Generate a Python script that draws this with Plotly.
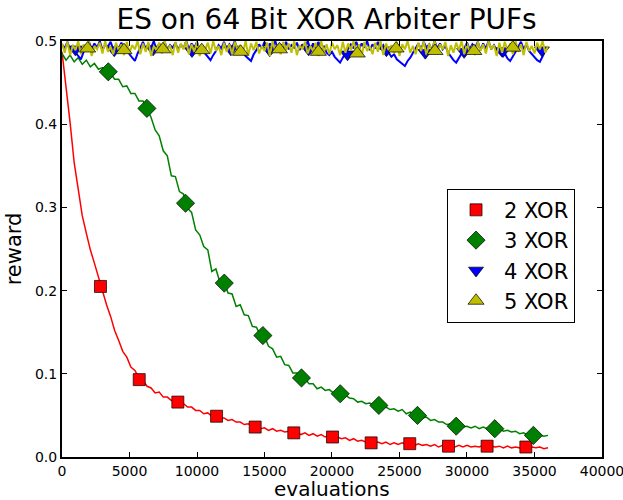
import numpy as np
import plotly.graph_objects as go

# evaluation grids for the curves
evals = np.arange(0, 36001, 300)
evals_fine = np.arange(0, 36001, 200)

xor2 = [0.487, 0.446, 0.402, 0.354, 0.319, 0.290, 0.269, 0.249, 0.233, 0.216,
        0.202, 0.183, 0.169, 0.152, 0.140, 0.127, 0.120, 0.108, 0.104, 0.095,
        0.092, 0.085, 0.083, 0.077, 0.078, 0.072, 0.072, 0.068, 0.068, 0.064,
        0.064, 0.060, 0.060, 0.056, 0.056, 0.052, 0.053, 0.049, 0.050, 0.047,
        0.047, 0.044, 0.045, 0.042, 0.042, 0.039, 0.040, 0.036, 0.037, 0.034,
        0.035, 0.032, 0.034, 0.031, 0.032, 0.030, 0.031, 0.028, 0.030, 0.027,
        0.029, 0.026, 0.028, 0.025, 0.027, 0.024, 0.026, 0.023, 0.024, 0.022,
        0.023, 0.020, 0.022, 0.019, 0.020, 0.018, 0.019, 0.016, 0.018, 0.016,
        0.018, 0.015, 0.017, 0.015, 0.017, 0.015, 0.017, 0.014, 0.016, 0.014,
        0.015, 0.013, 0.015, 0.012, 0.014, 0.012, 0.014, 0.012, 0.014, 0.012,
        0.014, 0.012, 0.013, 0.012, 0.014, 0.011, 0.013, 0.012, 0.013, 0.011,
        0.013, 0.011, 0.012, 0.011, 0.013, 0.010, 0.012, 0.011, 0.012, 0.010,
        0.011]

xor3 = [0.485, 0.477, 0.483, 0.475, 0.480, 0.472, 0.477, 0.469, 0.473, 0.466,
        0.468, 0.462, 0.461, 0.454, 0.454, 0.445, 0.446, 0.437, 0.437, 0.428,
        0.428, 0.418, 0.408, 0.393, 0.386, 0.368, 0.362, 0.338, 0.337, 0.319,
        0.316, 0.299, 0.294, 0.273, 0.267, 0.253, 0.249, 0.223, 0.226, 0.210,
        0.211, 0.197, 0.196, 0.181, 0.183, 0.171, 0.170, 0.157, 0.156, 0.146,
        0.145, 0.133, 0.130, 0.120, 0.121, 0.111, 0.110, 0.101, 0.101, 0.094,
        0.094, 0.088, 0.088, 0.082, 0.084, 0.080, 0.081, 0.077, 0.078, 0.074,
        0.074, 0.071, 0.070, 0.066, 0.067, 0.064, 0.065, 0.062, 0.063, 0.060,
        0.060, 0.057, 0.058, 0.055, 0.057, 0.052, 0.054, 0.050, 0.051, 0.047,
        0.048, 0.044, 0.045, 0.042, 0.042, 0.039, 0.040, 0.036, 0.038, 0.036,
        0.037, 0.035, 0.037, 0.034, 0.036, 0.034, 0.035, 0.033, 0.034, 0.031,
        0.032, 0.030, 0.031, 0.028, 0.029, 0.026, 0.028, 0.025, 0.026, 0.025,
        0.026]

xor4 = [0.496, 0.491, 0.499, 0.489, 0.495, 0.486, 0.482, 0.478, 0.487, 0.494,
        0.499, 0.490, 0.497, 0.492, 0.500, 0.489, 0.496, 0.493, 0.499, 0.490,
        0.495, 0.491, 0.498, 0.489, 0.494, 0.484, 0.480, 0.476, 0.485, 0.493,
        0.499, 0.490, 0.496, 0.492, 0.500, 0.489, 0.497, 0.491, 0.499, 0.490,
        0.495, 0.492, 0.498, 0.489, 0.496, 0.491, 0.500, 0.490, 0.497, 0.492,
        0.499, 0.488, 0.494, 0.485, 0.481, 0.477, 0.483, 0.488, 0.495, 0.491,
        0.499, 0.490, 0.496, 0.492, 0.500, 0.489, 0.494, 0.486, 0.482, 0.479,
        0.476, 0.484, 0.489, 0.496, 0.491, 0.499, 0.490, 0.497, 0.492, 0.500,
        0.489, 0.496, 0.491, 0.499, 0.490, 0.495, 0.492, 0.498, 0.489, 0.496,
        0.491, 0.500, 0.490, 0.497, 0.492, 0.499, 0.488, 0.494, 0.486, 0.483,
        0.487, 0.481, 0.478, 0.474, 0.480, 0.485, 0.490, 0.496, 0.491, 0.499,
        0.490, 0.497, 0.492, 0.500, 0.489, 0.496, 0.491, 0.499, 0.490, 0.495,
        0.489, 0.486, 0.481, 0.484, 0.478, 0.475, 0.472, 0.470, 0.476, 0.480,
        0.486, 0.491, 0.497, 0.490, 0.499, 0.492, 0.496, 0.489, 0.500, 0.491,
        0.497, 0.490, 0.494, 0.486, 0.481, 0.477, 0.474, 0.479, 0.485, 0.491,
        0.498, 0.490, 0.496, 0.492, 0.499, 0.489, 0.497, 0.491, 0.500, 0.490,
        0.495, 0.489, 0.486, 0.482, 0.485, 0.479, 0.476, 0.481, 0.487, 0.493,
        0.499, 0.490, 0.496, 0.488, 0.484, 0.480, 0.477, 0.475, 0.482, 0.488,
        0.493]

xor5 = [0.497, 0.486, 0.499, 0.483, 0.495, 0.489, 0.500, 0.484, 0.496, 0.488,
        0.499, 0.482, 0.494, 0.490, 0.498, 0.485, 0.500, 0.487, 0.493, 0.484,
        0.498, 0.489, 0.496, 0.483, 0.499, 0.486, 0.495, 0.490, 0.500, 0.484,
        0.497, 0.487, 0.499, 0.482, 0.494, 0.489, 0.498, 0.485, 0.500, 0.488,
        0.495, 0.483, 0.499, 0.486, 0.497, 0.490, 0.500, 0.484, 0.496, 0.487,
        0.499, 0.482, 0.495, 0.489, 0.498, 0.485, 0.500, 0.488, 0.494, 0.483,
        0.498, 0.487, 0.496, 0.484, 0.499, 0.490, 0.495, 0.486, 0.500, 0.483,
        0.497, 0.489, 0.499, 0.485, 0.494, 0.488, 0.498, 0.482, 0.500, 0.487,
        0.496, 0.484, 0.499, 0.489, 0.497, 0.486, 0.500, 0.483, 0.495, 0.490,
        0.499, 0.485, 0.494, 0.488, 0.498, 0.482, 0.500, 0.487, 0.496, 0.484,
        0.498, 0.490, 0.495, 0.483, 0.499, 0.486, 0.497, 0.489, 0.500, 0.485,
        0.496, 0.482, 0.499, 0.488, 0.494, 0.484, 0.498, 0.487, 0.500, 0.483,
        0.497, 0.489, 0.495, 0.485, 0.499, 0.482, 0.496, 0.490, 0.500, 0.486,
        0.494, 0.484, 0.498, 0.488, 0.499, 0.483, 0.497, 0.487, 0.500, 0.485,
        0.496, 0.490, 0.499, 0.482, 0.495, 0.486, 0.498, 0.489, 0.500, 0.484,
        0.497, 0.487, 0.494, 0.483, 0.499, 0.488, 0.496, 0.485, 0.500, 0.490,
        0.495, 0.482, 0.498, 0.486, 0.499, 0.489, 0.497, 0.484, 0.500, 0.487,
        0.496, 0.483, 0.499, 0.488, 0.494, 0.485, 0.498, 0.490, 0.500, 0.486,
        0.494]

# marker positions (every ~2860 evaluations) and values
m2_x = [2850, 5720, 8580, 11450, 14310, 17170, 20040, 22900, 25760, 28630, 31490, 34360]
m2_y = [0.205, 0.093, 0.066, 0.049, 0.036, 0.029, 0.024, 0.017, 0.016, 0.013, 0.013, 0.012]
m3_x = [3430, 6290, 9150, 12020, 14880, 17740, 20610, 23470, 26330, 29200, 32060, 34920]
m3_y = [0.463, 0.419, 0.305, 0.209, 0.146, 0.095, 0.076, 0.062, 0.050, 0.037, 0.034, 0.026]
m4_x = [990, 3870, 6750, 9630, 12510, 15390, 18270, 21150, 24030, 26910, 29790, 32670, 35550]
m4_y = [0.490, 0.489, 0.490, 0.488, 0.490, 0.489, 0.490, 0.484, 0.489, 0.486, 0.487, 0.488, 0.489]
m5_x = [1900, 4590, 7470, 10350, 13230, 16110, 18990, 21870, 24750, 27630, 30510, 33390]
m5_y = [0.491, 0.489, 0.490, 0.489, 0.487, 0.490, 0.487, 0.485, 0.491, 0.488, 0.488, 0.492]

x_ticks = [0, 5000, 10000, 15000, 20000, 25000, 30000, 35000, 40000]
y_ticks = [0.0, 0.1, 0.2, 0.3, 0.4, 0.5]

labels = ["2 XOR", "3 XOR", "4 XOR", "5 XOR"]
colors = ["#ff0000", "#008000", "#0000ff", "#bfbf00"]
symbols = ["square", "diamond", "triangle-down", "triangle-up"]
sizes = [12, 14, 13, 14]
widths = [1.5, 1.5, 2, 2]

series = [xor2, xor3, xor4, xor5]
grids = [evals, evals, evals_fine, evals_fine]
mx = [m2_x, m3_x, m4_x, m5_x]
my = [m2_y, m3_y, m4_y, m5_y]

fig = go.Figure()
for i in range(4):
    fig.add_trace(go.Scatter(x=grids[i], y=series[i], mode="lines",
                             line=dict(color=colors[i], width=widths[i]),
                             showlegend=False, hoverinfo="skip"))
    fig.add_trace(go.Scatter(x=mx[i], y=my[i], mode="markers", name=labels[i],
                             marker=dict(symbol=symbols[i], size=sizes[i], color=colors[i],
                                         line=dict(color="black", width=0.7))))

font = "DejaVu Sans, Verdana, sans-serif"
fig.update_layout(
    width=623, height=500,
    margin=dict(l=62, r=21, t=41, b=43, autoexpand=False),
    paper_bgcolor="white", plot_bgcolor="white",
    font=dict(family=font, color="black", size=14),
    title=dict(text="ES on 64 Bit XOR Arbiter PUFs", x=0.49, xref="paper",
               xanchor="center", y=1 - 19 / 500, yanchor="middle",
               font=dict(size=28, family=font, color="black")),
    legend=dict(x=0.713, y=0.645, xanchor="left", yanchor="top",
                bordercolor="black", borderwidth=1, bgcolor="white",
                font=dict(size=21, family=font, color="black"),
                tracegroupgap=0, itemwidth=46),
    showlegend=True,
    annotations=[dict(text="evaluations", xref="paper", yref="paper",
                      x=0.5, y=-0.078, xanchor="center", yanchor="middle",
                      showarrow=False, borderpad=0,
                      font=dict(size=20, family=font, color="black"))],
)
fig.update_xaxes(range=[0, 40001], tickvals=x_ticks, automargin=False,
                 ticktext=[str(v) for v in x_ticks], ticklabeloverflow="allow",
                 ticks="inside", ticklen=5, tickcolor="black", showline=True, linecolor="black",
                 linewidth=2, mirror="ticks", showgrid=False, zeroline=False,
                 tickfont=dict(size=14))
fig.update_yaxes(range=[0, 0.5], tickvals=y_ticks, automargin=False,
                 ticktext=["%.1f" % v for v in y_ticks], ticklabeloverflow="allow",
                 ticks="inside", ticklen=5, tickcolor="black", showline=True, linecolor="black",
                 linewidth=2, mirror="ticks", showgrid=False, zeroline=False,
                 title=dict(text="reward", font=dict(size=21, family=font), standoff=8),
                 tickfont=dict(size=14))

fig.write_html("out.html")
